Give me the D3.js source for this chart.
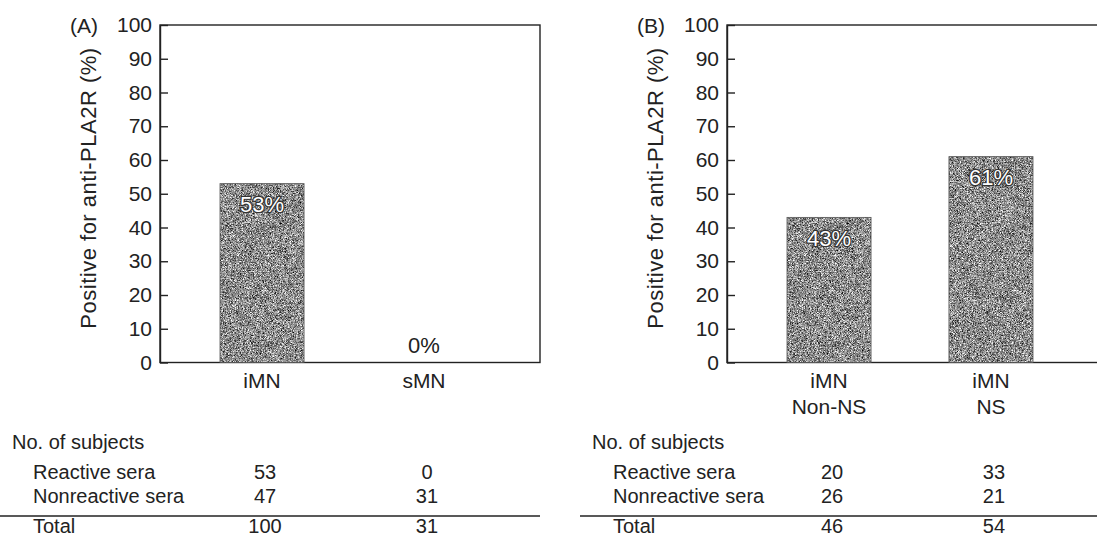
<!DOCTYPE html>
<html>
<head>
<meta charset="utf-8">
<script src="https://cdn.jsdelivr.net/npm/d3@7"></script>
<style>
  body { margin: 0; background: #fff; }
  text { font-family: "Liberation Sans", Arial, sans-serif; fill: #222; }
</style>
</head>
<body>
<div id="canvas"></div>
<script>
// chart data
const yTicks = [0, 10, 20, 30, 40, 50, 60, 70, 80, 90, 100];
const yTitle = "Positive for anti-PLA2R (%)";

const catsA = ["iMN", "sMN"];
const pctA = [53, 0];
const catsB = ["iMN|Non-NS", "iMN|NS"];
const pctB = [43, 61];

const rowLabels = ["Reactive sera", "Nonreactive sera", "Total"];
const reactiveA = [53, 0];
const nonreactiveA = [47, 31];
const totalA = [100, 31];
const reactiveB = [20, 33];
const nonreactiveB = [26, 21];
const totalB = [46, 54];

const width = 1097;
const height = 537;
const margin = { top: 25, left: 160, bottom: 362.5, right: 540 };

const svg = d3.select("#canvas").append("svg")
  .attr("width", width)
  .attr("height", height);

// speckled grey fill like the printed bars
const defs = svg.append("defs");
const f = defs.append("filter").attr("id", "grain")
  .attr("color-interpolation-filters", "sRGB")
  .attr("x", 0).attr("y", 0).attr("width", 1).attr("height", 1);
f.append("feTurbulence").attr("type", "fractalNoise")
  .attr("baseFrequency", 1.4).attr("numOctaves", 2).attr("seed", 4)
  .attr("result", "noise");
f.append("feColorMatrix").attr("in", "noise").attr("type", "matrix")
  .attr("values", "1.6 0 0 0 -0.25  1.6 0 0 0 -0.25  1.6 0 0 0 -0.25  0 0 0 0 1")
  .attr("result", "grey");
f.append("feComposite").attr("in", "grey").attr("in2", "SourceAlpha").attr("operator", "in");

const y = d3.scaleLinear().domain([0, 100]).range([margin.bottom, margin.top]);

const panels = [
  { tag: "(A)", cats: catsA, pct: pctA, rows: [reactiveA, nonreactiveA, totalA], ox: 0, tx: 12 },
  { tag: "(B)", cats: catsB, pct: pctB, rows: [reactiveB, nonreactiveB, totalB], ox: 567, tx: 592 }
];

panels.forEach((p) => {
  const g = svg.append("g").attr("transform", `translate(${p.ox}, 0)`);

  const x = d3.scaleBand()
    .domain(p.cats)
    .range([220, 466])
    .paddingInner(0.481)
    .paddingOuter(0);
  const cx = (c) => x(c) + x.bandwidth() / 2;

  // frame (top / right / bottom)
  g.append("rect")
    .attr("x", margin.left).attr("y", margin.top)
    .attr("width", margin.right - margin.left)
    .attr("height", margin.bottom - margin.top)
    .attr("fill", "none").attr("stroke", "#222").attr("stroke-width", 1.4);

  // bars
  const data = p.cats.map((c, i) => ({ c, v: p.pct[i] }));
  g.selectAll("rect.bar").data(data.filter((d) => d.v > 0)).enter()
    .append("rect").attr("class", "bar")
    .attr("x", (d) => x(d.c))
    .attr("y", (d) => y(d.v))
    .attr("width", x.bandwidth())
    .attr("height", (d) => y(0) - y(d.v))
    .attr("fill", "#888")
    .attr("filter", "url(#grain)");
  g.selectAll("rect.edge").data(data.filter((d) => d.v > 0)).enter()
    .append("rect").attr("class", "edge")
    .attr("x", (d) => x(d.c))
    .attr("y", (d) => y(d.v))
    .attr("width", x.bandwidth())
    .attr("height", (d) => y(0) - y(d.v))
    .attr("fill", "none").attr("stroke", "#555").attr("stroke-width", 0.8);

  // value labels
  g.selectAll("text.val").data(data).enter()
    .append("text").attr("class", "val")
    .attr("x", (d) => cx(d.c))
    .attr("y", (d) => (d.v > 0 ? y(d.v) + 28.5 : y(0) - 10))
    .attr("text-anchor", "middle")
    .style("font-size", "22px")
    .style("fill", (d) => (d.v > 0 ? "#fff" : "#222"))
    .style("stroke", (d) => (d.v > 0 ? "#333" : "none"))
    .style("stroke-width", 2.4)
    .style("paint-order", "stroke")
    .text((d) => d.v + "%");

  // y axis with inward ticks
  const ax = g.append("g")
    .attr("transform", `translate(${margin.left}, 0)`)
    .call(d3.axisLeft(y).tickValues(yTicks).tickSizeInner(-8).tickSizeOuter(0).tickPadding(8));
  ax.select(".domain").attr("stroke", "#222").attr("stroke-width", 1.4);
  ax.selectAll(".tick line").attr("stroke", "#222").attr("stroke-width", 1.4);
  ax.selectAll(".tick text")
    .style("font-size", "21px")
    .style("font-family", "Liberation Sans, Arial, sans-serif")
    .attr("fill", "#222");

  // panel tag
  g.append("text")
    .attr("x", 70).attr("y", y(100) + 8)
    .style("font-size", "21px")
    .text(p.tag);

  // y title
  g.append("text")
    .attr("transform", `translate(88, 188) rotate(-90)`)
    .attr("text-anchor", "middle")
    .attr("dy", "0.35em")
    .style("font-size", "22px")
    .style("letter-spacing", "0.5px")
    .text(yTitle);

  // category labels
  const xl = g.selectAll("text.cat").data(p.cats).enter()
    .append("text").attr("class", "cat")
    .attr("text-anchor", "middle")
    .style("font-size", "21px");
  xl.each(function (c) {
    const t = d3.select(this);
    c.split("|").forEach((line, i) => {
      t.append("tspan").attr("x", cx(c)).attr("y", 388 + i * 26).text(line);
    });
  });

  // subject table
  const tb = svg.append("g");
  tb.append("text").attr("x", p.tx).attr("y", 449)
    .style("font-size", "20px").text("No. of subjects");
  const rowY = [479, 503, 533];
  rowLabels.forEach((lab, r) => {
    tb.append("text").attr("x", p.tx + 21).attr("y", rowY[r])
      .style("font-size", "20px").text(lab);
    p.rows[r].forEach((n, i) => {
      tb.append("text")
        .attr("x", p.ox + cx(p.cats[i]) + 3)
        .attr("y", rowY[r])
        .attr("text-anchor", "middle")
        .style("font-size", "20px")
        .text(n);
    });
  });
  tb.append("line")
    .attr("x1", p.tx - 12).attr("x2", p.ox + margin.right)
    .attr("y1", 516).attr("y2", 516)
    .attr("stroke", "#222").attr("stroke-width", 1.4);
});
</script>
</body>
</html>
